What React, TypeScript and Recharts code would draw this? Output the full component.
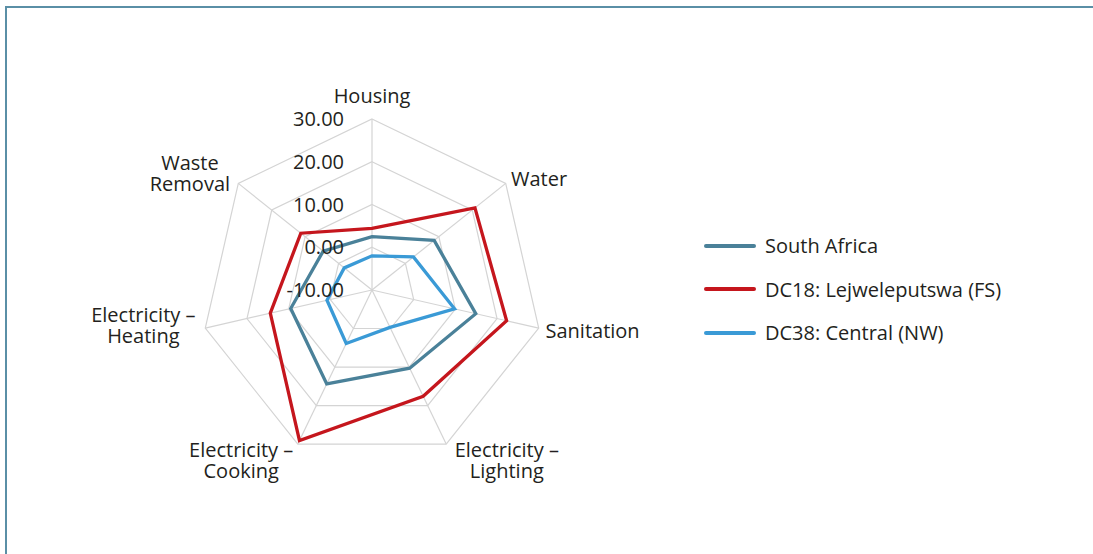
import React from 'react';
import { RadarChart, Radar, PolarGrid, PolarAngleAxis, PolarRadiusAxis, Legend } from 'recharts';

const categories = [
  'Housing',
  'Water',
  'Sanitation',
  'Electricity –\nLighting',
  'Electricity –\nCooking',
  'Electricity –\nHeating',
  'Waste\nRemoval',
];
const southAfrica = [2.5, 8.6, 14.9, 10.3, 14.4, 9.5, 4.6];
const lejweleputswa = [4.4, 20.8, 22.3, 17.6, 29.1, 14.4, 11.3];
const central = [-2.0, 2.4, 9.8, -0.3, 3.9, 0.8, -1.7];
const radiusDomain = [-10, 30];

const seriesNames = ['South Africa', 'DC18: Lejweleputswa (FS)', 'DC38: Central (NW)'];
const seriesColors = ['#4a8199', '#c5161d', '#3a9ad6'];

const data = categories.map((c, i) => ({
  category: c,
  sa: southAfrica[i],
  dc18: lejweleputswa[i],
  dc38: central[i],
}));

const FONT = '"Open Sans", sans-serif';
const FONT_SIZE = 20;
const TEXT_COLOR = '#231f20';

let measureCtx: CanvasRenderingContext2D | null = null;
function textWidth(s: string): number {
  if (!measureCtx) {
    const c = document.createElement('canvas');
    measureCtx = c.getContext('2d');
  }
  if (!measureCtx) return s.length * 10;
  measureCtx.font = `${FONT_SIZE}px "Open Sans"`;
  return measureCtx.measureText(s).width;
}

const AngleTick = (props: any) => {
  const { x, y, payload } = props;
  const lines = String(payload.value).split('\n');
  const rad = (payload.coordinate * Math.PI) / 180;
  const cos = Math.cos(rad);
  const sin = Math.sin(rad);
  const w = Math.max(...lines.map(textWidth));
  const lh = 21;
  let centerX: number;
  let firstBaseline: number;
  if (Math.abs(cos) < 0.1) {
    centerX = x;
    firstBaseline = y - 8 - (lines.length - 1) * lh;
  } else if (sin < -0.5) {
    centerX = cos > 0 ? x + 5 + w / 2 : x - 1 - w / 2;
    firstBaseline = y + 6;
  } else {
    centerX = cos > 0 ? x - 1 + w / 2 : x - 2 - w / 2;
    firstBaseline = lines.length === 1 ? y + 8 : y - 8;
  }
  return (
    <text fontFamily={FONT} fontSize={FONT_SIZE} fill={TEXT_COLOR}>
      {lines.map((l, i) => (
        <tspan key={i} x={centerX} y={firstBaseline + i * lh} textAnchor="middle">
          {l}
        </tspan>
      ))}
    </text>
  );
};

const RadiusTick = (props: any) => {
  const { x, y, payload } = props;
  return (
    <text
      x={x - 28}
      y={y + 7}
      textAnchor="end"
      fontFamily={FONT}
      fontSize={FONT_SIZE}
      fill={TEXT_COLOR}
    >
      {Number(payload.value).toFixed(2)}
    </text>
  );
};

const renderLegend = (props: any) => {
  const payload = [...(props.payload || [])].sort(
    (a: any, b: any) => seriesNames.indexOf(a.value) - seriesNames.indexOf(b.value)
  );
  return (
    <div>
      {payload.map((entry: any, i: number) => (
        <div key={i} style={{ display: 'flex', alignItems: 'center', height: 43.5 }}>
          <span
            style={{
              display: 'inline-block',
              width: 52,
              height: 4,
              borderRadius: 2,
              background: entry.color,
              marginRight: 9,
            }}
          />
          <span style={{ fontFamily: FONT, fontSize: FONT_SIZE, color: TEXT_COLOR, whiteSpace: 'nowrap' }}>
            {entry.value}
          </span>
        </div>
      ))}
    </div>
  );
};

export default function App() {
  return (
    <div
      style={{
        position: 'absolute',
        left: 0,
        top: 0,
        width: 1093,
        height: 554,
        background: '#ffffff',
        overflow: 'hidden',
        fontFamily: FONT,
      }}
    >
      <div
        style={{
          position: 'absolute',
          left: 5,
          top: 6,
          width: 1100,
          height: 560,
          borderTop: '2px solid #5a8fa6',
          borderLeft: '2px solid #5a8fa6',
        }}
      />
      <div style={{ position: 'absolute', left: 0, top: 0 }}>
        <RadarChart width={1093} height={554} data={data} cx={372} cy={290} outerRadius={171}>
          <PolarGrid stroke="#d4d4d4" strokeWidth={1.2} />
          <PolarAngleAxis dataKey="category" tick={AngleTick} tickLine={false} axisLine={false} />
          <PolarRadiusAxis
            angle={90}
            domain={radiusDomain}
            tickCount={5}
            axisLine={false}
            tickLine={false}
            tick={RadiusTick}
          />
          <Radar
            name={seriesNames[0]}
            dataKey="sa"
            stroke={seriesColors[0]}
            strokeWidth={3.3}
            fill="none"
            fillOpacity={0}
            dot={false}
            isAnimationActive={false}
          />
          <Radar
            name={seriesNames[1]}
            dataKey="dc18"
            stroke={seriesColors[1]}
            strokeWidth={3.3}
            fill="none"
            fillOpacity={0}
            dot={false}
            isAnimationActive={false}
          />
          <Radar
            name={seriesNames[2]}
            dataKey="dc38"
            stroke={seriesColors[2]}
            strokeWidth={3.3}
            fill="none"
            fillOpacity={0}
            dot={false}
            isAnimationActive={false}
          />
          <Legend
            layout="vertical"
            verticalAlign="top"
            align="left"
            content={renderLegend}
            wrapperStyle={{ left: 704, top: 224, width: 340 }}
          />
        </RadarChart>
      </div>
    </div>
  );
}
